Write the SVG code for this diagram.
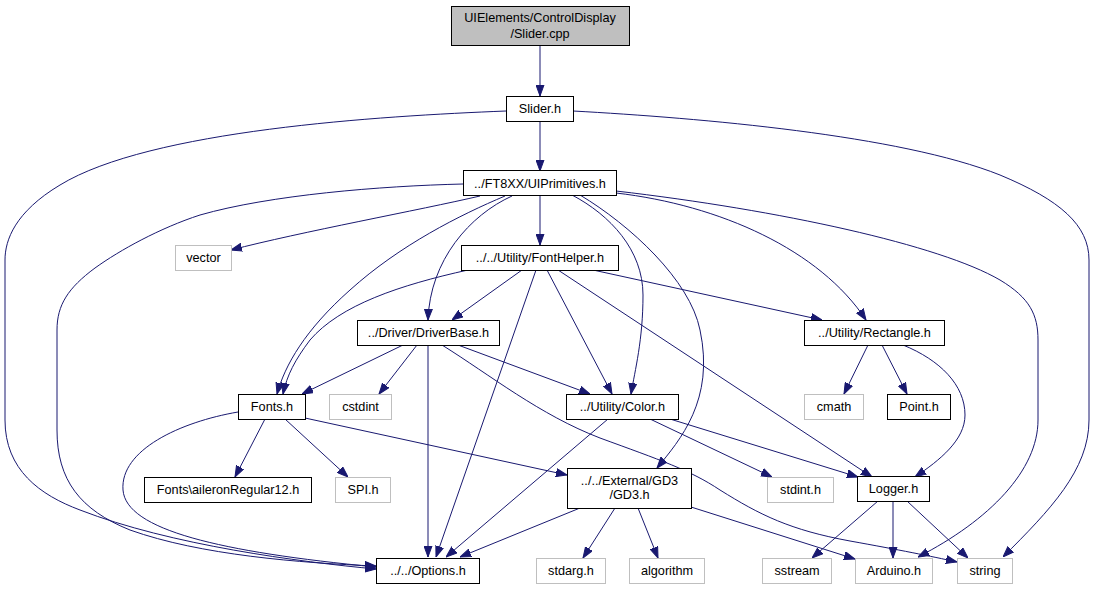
<svg xmlns="http://www.w3.org/2000/svg" width="1095" height="589" viewBox="0 0 1095 589">
<style>
.n rect{fill:#fff;stroke:#000;stroke-width:1}
.g rect{fill:#fff;stroke:#bfbfbf;stroke-width:1}
.c rect{fill:#bfbfbf;stroke:#000;stroke-width:1}
text{font-family:"Liberation Sans",Arial,sans-serif;font-size:12.7px;fill:#000;text-anchor:middle}
#edges path{fill:none;stroke:#191970;stroke-width:1;marker-end:url(#ah)}
</style>
<defs>
<marker id="ah" markerUnits="userSpaceOnUse" markerWidth="11" markerHeight="9" viewBox="0 0 11 9" refX="11" refY="4.5" orient="auto">
<path d="M0,0.5 L11,4.5 L0,8.5 z" fill="#191970" stroke="#191970" stroke-width="1"/>
</marker>
</defs>
<rect width="1095" height="589" fill="#fff"/>
<g id="edges">
<path d="M540,45 L540,96"/>
<path d="M540,121 L540,171"/>
<path d="M506,111 C380,116 150,130 60,185 C15,212 5,240 5,260 L5,420 C5,470 40,495 80,510 C170,545 300,562 376,569"/>
<path d="M573,111 C700,118 900,135 1000,175 C1060,200 1089,225 1089,260 L1089,420 C1089,470 1050,510 1003,557"/>
<path d="M463,184 C380,186 270,195 200,215 C160,228 120,250 95,268 C68,288 57,305 57,330 L57,430 C57,480 80,510 130,530 C200,555 300,563 376,566"/>
<path d="M480,196 C420,210 300,232 231,250"/>
<path d="M505,196 C460,215 400,245 350,290 C305,330 285,365 277,394"/>
<path d="M512,196 C470,215 430,260 428,320"/>
<path d="M540,195 L540,245"/>
<path d="M572,195 C610,215 643,250 643,295 C643,340 635,370 631,394"/>
<path d="M580,195 C630,225 690,280 700,330 C715,400 680,440 657,468"/>
<path d="M616,193 C720,205 820,250 866,320"/>
<path d="M616,191 C780,210 940,245 1000,280 C1030,298 1038,315 1038,340 L1038,420 C1038,470 990,520 918,557"/>
<path d="M522,270 L452,320"/>
<path d="M468,270 C400,285 340,305 310,340 C295,360 287,375 283,394"/>
<path d="M536,270 L436,557"/>
<path d="M547,270 L612,394"/>
<path d="M558,270 L872,477"/>
<path d="M593,270 L822,320"/>
<path d="M403,345 L302,394"/>
<path d="M417,345 L379,394"/>
<path d="M428,345 L428,557"/>
<path d="M458,345 L590,394"/>
<path d="M442,345 C490,375 540,415 600,438 C660,460 690,470 720,490 C760,515 790,530 850,541 C900,550 930,556 957,562"/>
<path d="M238,412 C180,422 120,450 123,490 C126,530 220,552 376,567"/>
<path d="M265,419 L235,477"/>
<path d="M285,419 L348,477"/>
<path d="M305,418 L567,475"/>
<path d="M608,419 L446,557"/>
<path d="M650,419 L772,477"/>
<path d="M670,419 L858,477"/>
<path d="M868,345 L844,394"/>
<path d="M882,345 L907,394"/>
<path d="M903,345 C940,360 965,385 965,415 C965,440 940,460 915,477"/>
<path d="M580,508 L460,557"/>
<path d="M615,508 L583,558"/>
<path d="M638,508 L658,558"/>
<path d="M691,507 L855,559"/>
<path d="M878,501 L812,558"/>
<path d="M893,501 L893,558"/>
<path d="M907,501 L968,558"/>
</g>
<g id="slider_cpp" class="c"><rect x="451.5" y="6.5" width="178" height="39"/><text x="540" y="22">UIElements/ControlDisplay</text><text x="540" y="38">/Slider.cpp</text></g>
<g id="slider_h" class="n"><rect x="506.5" y="96.5" width="67" height="25"/><text x="540" y="113">Slider.h</text></g>
<g id="uiprimitives" class="n"><rect x="463.5" y="170.5" width="153" height="25"/><text x="540" y="188">../FT8XX/UIPrimitives.h</text></g>
<g id="vector" class="g"><rect x="175.5" y="245.5" width="56" height="25"/><text x="203.5" y="262">vector</text></g>
<g id="fonthelper" class="n"><rect x="461.5" y="245.5" width="157" height="25"/><text x="540" y="262">../../Utility/FontHelper.h</text></g>
<g id="driverbase" class="n"><rect x="357.5" y="320.5" width="142" height="25"/><text x="428.5" y="337">../Driver/DriverBase.h</text></g>
<g id="rectangle" class="n"><rect x="804.5" y="320.5" width="140" height="25"/><text x="874.5" y="337">../Utility/Rectangle.h</text></g>
<g id="fonts" class="n"><rect x="238.5" y="394.5" width="67" height="25"/><text x="272" y="411">Fonts.h</text></g>
<g id="cstdint" class="g"><rect x="329.5" y="394.5" width="62" height="25"/><text x="360.5" y="411">cstdint</text></g>
<g id="color" class="n"><rect x="566.5" y="394.5" width="112" height="25"/><text x="622.5" y="411">../Utility/Color.h</text></g>
<g id="cmath" class="g"><rect x="804.5" y="394.5" width="59" height="25"/><text x="834" y="411">cmath</text></g>
<g id="point" class="n"><rect x="887.5" y="394.5" width="63" height="25"/><text x="919" y="411">Point.h</text></g>
<g id="aileron" class="n"><rect x="144.5" y="477.5" width="167" height="25"/><text x="228" y="494">Fonts\aileronRegular12.h</text></g>
<g id="spi" class="g"><rect x="335.5" y="477.5" width="55" height="25"/><text x="363" y="494">SPI.h</text></g>
<g id="gd3" class="n"><rect x="567.5" y="468.5" width="124" height="40"/><text x="629.5" y="485">../../External/GD3</text><text x="629.5" y="499">/GD3.h</text></g>
<g id="stdint" class="g"><rect x="767.5" y="477.5" width="66" height="25"/><text x="800.5" y="494">stdint.h</text></g>
<g id="logger" class="n"><rect x="857.5" y="476.5" width="72" height="25"/><text x="893.5" y="493">Logger.h</text></g>
<g id="options" class="n"><rect x="376.5" y="558.5" width="103" height="25"/><text x="428" y="575">../../Options.h</text></g>
<g id="stdarg" class="g"><rect x="536.5" y="558.5" width="69" height="25"/><text x="571" y="575">stdarg.h</text></g>
<g id="algorithm" class="g"><rect x="629.5" y="558.5" width="75" height="25"/><text x="667" y="575">algorithm</text></g>
<g id="sstream" class="g"><rect x="762.5" y="558.5" width="69" height="25"/><text x="797" y="575">sstream</text></g>
<g id="arduino" class="g"><rect x="855.5" y="558.5" width="77" height="25"/><text x="894" y="575">Arduino.h</text></g>
<g id="string" class="g"><rect x="957.5" y="558.5" width="55" height="25"/><text x="985" y="575">string</text></g>
</svg>
